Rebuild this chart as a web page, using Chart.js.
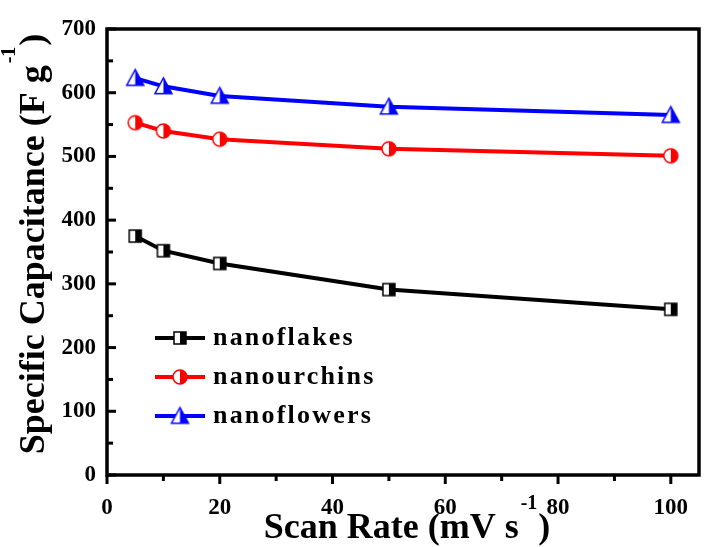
<!DOCTYPE html>
<html>
<head>
<meta charset="utf-8">
<script src="https://cdn.jsdelivr.net/npm/chart.js@4.4.1/dist/chart.umd.min.js"></script>
<style>
  html, body { margin: 0; padding: 0; background: #ffffff; }
  #wrap { width: 710px; height: 547px; }
</style>
</head>
<body>
<div id="wrap"><canvas id="c" width="710" height="547"></canvas></div>
<script>
// ---- data ----
const scanRates = [5, 10, 20, 50, 100];
const nanoflakes = [375, 352, 332, 291, 260];
const nanourchins = [553, 540, 527, 512, 501];
const nanoflowers = [623, 610, 595, 578, 565];
const seriesNames = ['nanoflakes', 'nanourchins', 'nanoflowers'];
const xMajorTicks = [0, 20, 40, 60, 80, 100];
const xMinorTicks = [10, 30, 50, 70, 90];
const yMajorTicks = [0, 100, 200, 300, 400, 500, 600, 700];
const yMinorTicks = [50, 150, 250, 350, 450, 550, 650];
const xTitle = ['Scan Rate (mV s', '-1', ')'];
const yTitle = ['Specific Capacitance (F g', '-1', ')'];

const FONT = '"Liberation Serif", "Times New Roman", serif';
const colors = ['#000000', '#ff0000', '#0000ff'];

function halfMarker(shape, color, size) {
  const pad = 3;
  const c = document.createElement('canvas');
  c.width = c.height = size + pad * 2;
  const ctx = c.getContext('2d');
  const cx = c.width / 2, cy = c.height / 2, r = size / 2;
  const path = () => {
    ctx.beginPath();
    if (shape === 'square') ctx.rect(cx - r, cy - r, size, size);
    else if (shape === 'circle') ctx.arc(cx, cy, r, 0, Math.PI * 2);
    else { ctx.moveTo(cx, cy - r); ctx.lineTo(cx + r, cy + r * 0.85); ctx.lineTo(cx - r, cy + r * 0.85); ctx.closePath(); }
  };
  path(); ctx.fillStyle = '#ffffff'; ctx.fill();
  ctx.save();
  ctx.beginPath(); ctx.rect(cx, 0, c.width, c.height); ctx.clip();
  path(); ctx.fillStyle = color; ctx.fill();
  ctx.restore();
  path(); ctx.strokeStyle = color; ctx.lineWidth = 1.5; ctx.stroke();
  return c;
}
const markers = [
  halfMarker('square', colors[0], 12),
  halfMarker('circle', colors[1], 14),
  halfMarker('triangle', colors[2], 17)
];

const seriesValues = [nanoflakes, nanourchins, nanoflowers];
const datasets = seriesValues.map((vals, i) => ({
  label: seriesNames[i],
  data: scanRates.map((x, j) => ({ x: x, y: vals[j] })),
  borderColor: colors[i],
  backgroundColor: colors[i],
  borderWidth: 4,
  pointStyle: markers[i],
  pointRadius: 7,
  pointHoverRadius: 7,
  tension: 0
}));

const decorPlugin = {
  id: 'decor',
  afterDraw(chart) {
    const ctx = chart.ctx;
    const a = chart.chartArea;
    const xs = chart.scales.x, ys = chart.scales.y;
    ctx.save();
    ctx.strokeStyle = '#000';
    ctx.lineCap = 'butt';
    // ticks
    ctx.lineWidth = 3;
    xMajorTicks.forEach(v => { const p = xs.getPixelForValue(v); ctx.beginPath(); ctx.moveTo(p, a.bottom); ctx.lineTo(p, a.bottom + 9); ctx.stroke(); });
    xMinorTicks.forEach(v => { const p = xs.getPixelForValue(v); ctx.beginPath(); ctx.moveTo(p, a.bottom); ctx.lineTo(p, a.bottom + 6); ctx.stroke(); });
    yMajorTicks.forEach(v => { const p = ys.getPixelForValue(v); ctx.beginPath(); ctx.moveTo(a.left, p); ctx.lineTo(a.left + 9, p); ctx.stroke(); });
    yMinorTicks.forEach(v => { const p = ys.getPixelForValue(v); ctx.beginPath(); ctx.moveTo(a.left, p); ctx.lineTo(a.left + 6, p); ctx.stroke(); });
    // box
    ctx.lineWidth = 3.5;
    ctx.strokeRect(a.left, a.top, a.right - a.left, a.bottom - a.top);

    // legend
    const rows = [338, 377, 416];
    chart.data.datasets.forEach((ds, i) => {
      const y = rows[i];
      ctx.strokeStyle = ds.borderColor; ctx.lineWidth = 4;
      ctx.beginPath(); ctx.moveTo(155, y); ctx.lineTo(205, y); ctx.stroke();
      const m = ds.pointStyle;
      ctx.drawImage(m, 180 - m.width / 2, y - m.height / 2);
      ctx.fillStyle = '#000';
      ctx.font = 'bold 26px ' + FONT;
      ctx.letterSpacing = '2.2px';
      ctx.textBaseline = 'alphabetic';
      ctx.textAlign = 'left';
      ctx.fillText(ds.label, 213, y + 7);
      ctx.letterSpacing = '0px';
    });

    // titles
    const mainFont = 'bold 36px ' + FONT, supFont = 'bold 20px ' + FONT;
    function titleWidth(parts) {
      ctx.font = mainFont; const w0 = ctx.measureText(parts[0]).width + ctx.measureText(parts[2]).width;
      ctx.font = supFont; const w1 = ctx.measureText(parts[1]).width;
      return w0 + w1 + 3;
    }
    function drawTitle(parts, startX, baseY) {
      ctx.fillStyle = '#000'; ctx.textAlign = 'left'; ctx.textBaseline = 'alphabetic';
      ctx.font = mainFont; ctx.fillText(parts[0], startX, baseY);
      let x = startX + ctx.measureText(parts[0]).width + 2;
      ctx.font = supFont; ctx.fillText(parts[1], x, baseY - 29);
      x += ctx.measureText(parts[1]).width + 1;
      ctx.font = mainFont; ctx.fillText(parts[2], x, baseY);
    }
    const wx = titleWidth(xTitle);
    drawTitle(xTitle, 407 - wx / 2, 538);
    const wy = titleWidth(yTitle);
    ctx.translate(44, 244);
    ctx.rotate(-Math.PI / 2);
    drawTitle(yTitle, -wy / 2, 0);
    ctx.restore();
  }
};

new Chart(document.getElementById('c'), {
  type: 'line',
  data: { datasets: datasets },
  options: {
    responsive: false,
    animation: false,
    devicePixelRatio: 1,
    layout: { padding: { top: 29, right: 2, left: 0, bottom: 0 } },
    plugins: { legend: { display: false }, tooltip: { enabled: false } },
    scales: {
      x: {
        type: 'linear', min: 0, max: 105,
        afterFit: s => { s.height = 72; },
        afterBuildTicks: s => { s.ticks = xMajorTicks.map(v => ({ value: v })); },
        grid: { display: false, drawTicks: false },
        border: { display: false },
        ticks: { color: '#000', font: { family: FONT, size: 23, weight: 'bold' }, padding: 19, maxRotation: 0 }
      },
      y: {
        type: 'linear', min: 0, max: 700,
        afterFit: s => { s.width = 107; },
        afterBuildTicks: s => { s.ticks = yMajorTicks.map(v => ({ value: v })); },
        grid: { display: false, drawTicks: false },
        border: { display: false },
        ticks: { color: '#000', font: { family: FONT, size: 23, weight: 'bold' }, padding: 11 }
      }
    }
  },
  plugins: [decorPlugin]
});
</script>
</body>
</html>
